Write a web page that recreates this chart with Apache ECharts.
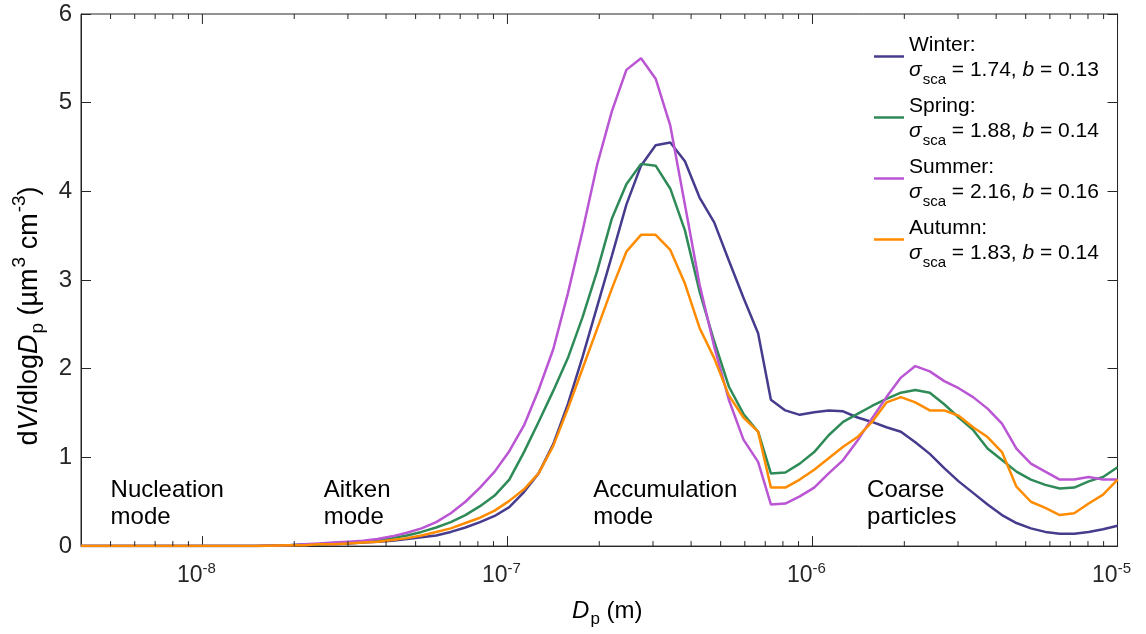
<!DOCTYPE html>
<html>
<head>
<meta charset="utf-8">
<script src="https://cdn.jsdelivr.net/npm/echarts@6/dist/echarts.min.js"></script>
<style>
html,body{margin:0;padding:0;background:#fff;}
#chart{width:1146px;height:634px;}
</style>
</head>
<body>
<div id="chart"></div>
<script>
// Particle diameters (nm)
var diameters = [4, 10, 15,
  19.3, 21.6, 24.1, 26.9, 30.1, 33.6, 37.5, 41.9, 46.8, 52.3, 58.4, 65.2, 72.8, 81.3, 90.8,
  101.4, 113.3, 126.5, 141.3, 157.8, 176.2, 196.8, 219.8, 245.4, 274.1, 306.1, 341.9, 381.8,
  426.4, 476.2, 531.8, 593.9, 663.3,
  730.5, 814.6, 908.5, 1013, 1130, 1260, 1405, 1567, 1748, 1949, 2173, 2424, 2703, 3014,
  3361, 3749, 4180, 4662, 5199, 5797, 6465, 7210, 8041, 8967, 10000];

var winter = [0, 0, 0,
  0.01, 0.01, 0.02, 0.02, 0.03, 0.04, 0.05, 0.06, 0.08, 0.10, 0.12, 0.16, 0.21, 0.27, 0.34,
  0.44, 0.61, 0.82, 1.15, 1.60, 2.13, 2.70, 3.27, 3.85, 4.29, 4.52, 4.55, 4.34,
  3.93, 3.65, 3.22, 2.80, 2.40,
  1.65, 1.53, 1.48, 1.51, 1.53, 1.52, 1.45, 1.40, 1.34, 1.29, 1.17, 1.04, 0.88, 0.73,
  0.60, 0.47, 0.35, 0.26, 0.20, 0.16, 0.14, 0.14, 0.16, 0.19, 0.23];

var spring = [0, 0, 0,
  0.01, 0.02, 0.02, 0.03, 0.04, 0.05, 0.07, 0.09, 0.12, 0.16, 0.21, 0.27, 0.35, 0.45, 0.57,
  0.75, 1.06, 1.40, 1.75, 2.12, 2.58, 3.10, 3.69, 4.08, 4.31, 4.29, 4.03, 3.56,
  2.87, 2.31, 1.80, 1.49, 1.29,
  0.82, 0.83, 0.93, 1.06, 1.25, 1.40, 1.49, 1.58, 1.66, 1.73, 1.76, 1.73, 1.60, 1.45,
  1.31, 1.10, 0.97, 0.84, 0.75, 0.69, 0.65, 0.66, 0.73, 0.78, 0.89];

var summer = [0, 0, 0,
  0.01, 0.02, 0.03, 0.04, 0.05, 0.06, 0.08, 0.11, 0.15, 0.20, 0.27, 0.37, 0.50, 0.66, 0.84,
  1.07, 1.36, 1.76, 2.22, 2.85, 3.55, 4.30, 4.90, 5.37, 5.50, 5.27, 4.74, 3.85,
  2.95, 2.25, 1.65, 1.20, 0.95,
  0.47, 0.48, 0.56, 0.66, 0.82, 0.97, 1.19, 1.44, 1.68, 1.90, 2.03, 1.97, 1.86, 1.78,
  1.68, 1.55, 1.38, 1.10, 0.93, 0.84, 0.75, 0.75, 0.78, 0.75, 0.75];

var autumn = [0, 0, 0,
  0.01, 0.01, 0.02, 0.02, 0.03, 0.04, 0.05, 0.07, 0.09, 0.12, 0.16, 0.20, 0.26, 0.32, 0.40,
  0.51, 0.64, 0.82, 1.13, 1.55, 2.00, 2.45, 2.90, 3.32, 3.51, 3.51, 3.34, 2.96,
  2.46, 2.12, 1.70, 1.45, 1.29,
  0.66, 0.66, 0.75, 0.86, 0.99, 1.12, 1.23, 1.40, 1.62, 1.68, 1.62, 1.53, 1.53, 1.47,
  1.34, 1.23, 1.06, 0.67, 0.50, 0.43, 0.35, 0.37, 0.48, 0.58, 0.75];

var seasonNames = ['Winter', 'Spring', 'Summer', 'Autumn'];
var sigmaSca = ['1.74', '1.88', '2.16', '1.83'];
var bValues = ['0.13', '0.14', '0.16', '0.14'];
var seasonColors = ['#463C8E', '#2E8B57', '#BA55D3', '#FF8C00'];

var modeBoundaries = [2e-8, 1e-7, 1e-6];
var modeLabels = ['Nucleation\nmode', 'Aitken\nmode', 'Accumulation\nmode', 'Coarse\nparticles'];
var modeLabelAnchors = [[5.0e-9, 0.78], [2.5e-8, 0.78], [1.91e-7, 0.78], [1.51e-6, 0.78]];

var X_MIN = 4e-9, X_MAX = 1e-5, Y_MIN = 0, Y_MAX = 6;
var FONT = 'Liberation Sans, Arial, Helvetica, sans-serif';
var AXC = '#262626';

function pairs(vals) {
  return diameters.map(function (d, i) { return [d * 1e-9, vals[i]]; });
}
var seriesValues = [winter, spring, summer, autumn];

// log-axis tick positions (minor: 2..9 x 10^n, major: 10^n)
var minorTickValues = [];
var majorTickValues = [];
for (var e = -9; e <= -5; e++) {
  var dec = Math.pow(10, e);
  if (dec >= X_MIN && dec <= X_MAX) majorTickValues.push(dec);
  for (var m = 2; m <= 9; m++) {
    var v = m * dec;
    if (v > X_MIN * 1.0001 && v < X_MAX * 0.9999) minorTickValues.push(v);
  }
}

var chart = echarts.init(document.getElementById('chart'), null, {renderer: 'canvas'});

function st(size, extra) {
  var o = {fontFamily: FONT, fontSize: size, color: '#000'};
  for (var k in extra) o[k] = extra[k];
  return o;
}

var series = seriesValues.map(function (vals, i) {
  return {
    name: seasonNames[i],
    type: 'line',
    data: pairs(vals),
    showSymbol: false,
    symbol: 'none',
    smooth: false,
    lineStyle: {width: 2.5, color: seasonColors[i]},
    itemStyle: {color: seasonColors[i]},
    z: 5 + i,
    silent: true
  };
});

series.push({
  type: 'line',
  data: [],
  silent: true,
  z: 3,
  markLine: {
    silent: true,
    symbol: 'none',
    label: {show: false},
    animation: false,
    data: [
      {xAxis: modeBoundaries[0], lineStyle: {color: '#444', width: 1, type: 'solid'}},
      {xAxis: modeBoundaries[1], lineStyle: {color: '#333', width: 1, type: 'solid'}},
      {xAxis: modeBoundaries[2], lineStyle: {color: '#000', width: 2, type: 'solid'}}
    ]
  }
});

var option = {
  animation: false,
  backgroundColor: '#fff',
  grid: {left: 81, right: 28, top: 14, bottom: 84, containLabel: false,
    show: true, borderColor: AXC, borderWidth: 1, backgroundColor: 'transparent'},
  legend: {
    show: true,
    orient: 'vertical',
    left: 874,
    top: 35,
    padding: 0,
    itemWidth: 30,
    itemHeight: 2.5,
    itemGap: 6.5,
    icon: 'rect',
    selectedMode: false,
    data: seasonNames,
    formatter: function (name) {
      var i = seasonNames.indexOf(name);
      return '{t|' + name + ':}\n{g|σ}{s|sca}{n| = ' + sigmaSca[i] + ', }{b|b}{n| = ' + bValues[i] + '}';
    },
    textStyle: {
      fontFamily: FONT, fontSize: 21, color: '#000',
      rich: {
        t: st(21, {lineHeight: 24}),
        n: st(21, {lineHeight: 22, padding: [2, 0, 8, 0], verticalAlign: 'top'}),
        g: st(21, {lineHeight: 22, padding: [2, 0, 8, 0], verticalAlign: 'top', fontStyle: 'italic'}),
        b: st(21, {lineHeight: 22, padding: [2, 0, 8, 0], verticalAlign: 'top', fontStyle: 'italic'}),
        s: st(15, {lineHeight: 15, padding: [15, 0, 2, 1], verticalAlign: 'top'})
      }
    }
  },
  xAxis: [{
    type: 'log',
    logBase: 10,
    min: X_MIN,
    max: X_MAX,
    position: 'bottom',
    axisLine: {show: true, lineStyle: {color: AXC, width: 1}},
    axisTick: {show: true, inside: true, length: 10, lineStyle: {color: AXC, width: 1}},
    splitLine: {show: false},
    minorTick: {show: false},
    axisLabel: {
      show: true,
      margin: 12,
      color: AXC,
      formatter: function (v) {
        var lg = Math.log10(v);
        var ex = Math.round(lg);
        if (Math.abs(lg - ex) > 1e-6) return '';
        return '{b|10}{s|' + ex + '}';
      },
      rich: {
        b: {fontFamily: FONT, fontSize: 23, color: AXC, lineHeight: 24, padding: [6, 0, 2, 0], verticalAlign: 'top'},
        s: {fontFamily: FONT, fontSize: 15, color: AXC, lineHeight: 15, padding: [3, 12, 14, 0], verticalAlign: 'top'}
      }
    },
    name: '{i|D}{s|p}{n| (m)}',
    nameLocation: 'middle',
    nameGap: 34,
    nameTextStyle: {
      padding: [0, 0, 0, 16],
      rich: {
        i: {fontFamily: FONT, fontSize: 24, color: '#000', fontStyle: 'italic', lineHeight: 24, padding: [4, 0, 6, 0], verticalAlign: 'top'},
        n: {fontFamily: FONT, fontSize: 24, color: '#000', lineHeight: 24, padding: [4, 0, 6, 0], verticalAlign: 'top'},
        s: {fontFamily: FONT, fontSize: 17, color: '#000', lineHeight: 17, padding: [16, 0, 1, 1], verticalAlign: 'top'}
      }
    }
  }],
  yAxis: [{
    type: 'value',
    min: Y_MIN,
    max: Y_MAX,
    interval: 1,
    position: 'left',
    axisLine: {show: true, lineStyle: {color: AXC, width: 1}},
    axisTick: {show: true, inside: true, length: 10, lineStyle: {color: AXC, width: 1}},
    splitLine: {show: false},
    axisLabel: {show: true, margin: 9, color: AXC, fontFamily: FONT, fontSize: 24},
    name: '{n|d}{i|V}{n|/dlog}{i|D}{s|p}{n| (µm}{u|3}{n| cm}{u|-3}{n|)}',
    nameLocation: 'middle',
    nameRotate: 90,
    nameGap: 36,
    nameTextStyle: {
      padding: [0, 72, 0, 0],
      rich: {
        n: {fontFamily: FONT, fontSize: 27, color: '#000', lineHeight: 28, padding: [6, 0, 4, 0], verticalAlign: 'top'},
        i: {fontFamily: FONT, fontSize: 27, color: '#000', fontStyle: 'italic', lineHeight: 28, padding: [6, 0, 4, 0], verticalAlign: 'top'},
        s: {fontFamily: FONT, fontSize: 19, color: '#000', lineHeight: 19, padding: [19, 0, 0, 1], verticalAlign: 'top'},
        u: {fontFamily: FONT, fontSize: 19, color: '#000', lineHeight: 19, padding: [1, 0, 18, 1], verticalAlign: 'top'}
      }
    }
  }, {
    type: 'value',
    min: Y_MIN,
    max: Y_MAX,
    interval: 1,
    position: 'right',
    axisLine: {show: true, lineStyle: {color: AXC, width: 1}},
    axisTick: {show: true, inside: true, length: 10, lineStyle: {color: AXC, width: 1}},
    splitLine: {show: false},
    axisLabel: {show: false}
  }],
  series: series
};

chart.setOption(option);

var graphics = [];
modeLabels.forEach(function (txt, i) {
  var p = chart.convertToPixel({xAxisIndex: 0, yAxisIndex: 0}, modeLabelAnchors[i]);
  graphics.push({
    type: 'text',
    x: p[0],
    y: p[1],
    silent: true,
    z: 20,
    style: {
      text: txt,
      fill: '#000',
      fontFamily: FONT,
      fontSize: 24,
      lineHeight: 27,
      align: 'left',
      verticalAlign: 'top'
    }
  });
});

function tickLine(v, len, atTop) {
  var yv = atTop ? Y_MAX : Y_MIN;
  var p = chart.convertToPixel({xAxisIndex: 0, yAxisIndex: 0}, [v, yv]);
  var dir = atTop ? 1 : -1;
  return {
    type: 'line',
    silent: true,
    z: 30,
    shape: {x1: p[0], y1: p[1], x2: p[0], y2: p[1] + dir * len},
    style: {stroke: AXC, lineWidth: 1}
  };
}
minorTickValues.forEach(function (v) {
  graphics.push(tickLine(v, 5, false));
  graphics.push(tickLine(v, 5, true));
});
majorTickValues.forEach(function (v) {
  graphics.push(tickLine(v, 10, true));
});

chart.setOption({graphic: graphics});
</script>
</body>
</html>
